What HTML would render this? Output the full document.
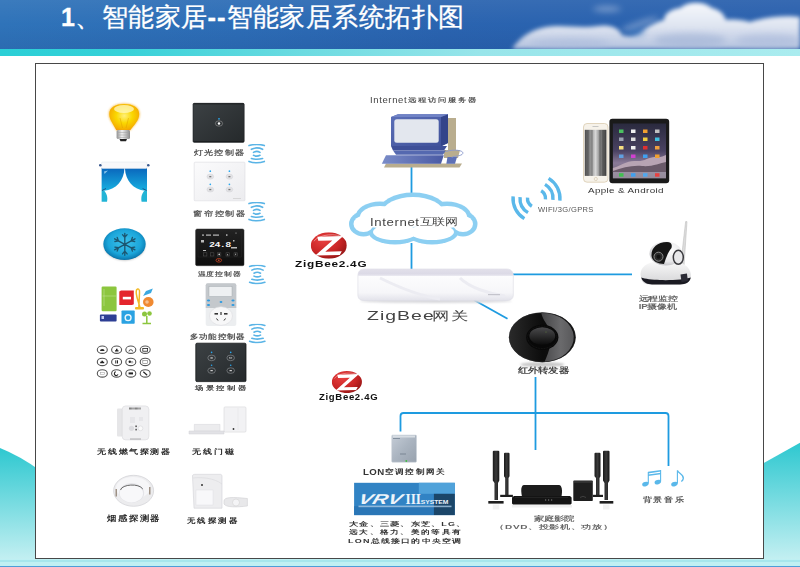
<!DOCTYPE html>
<html><head><meta charset="utf-8">
<style>
*{margin:0;padding:0;box-sizing:border-box}
html,body{width:800px;height:567px;overflow:hidden;background:#fff;font-family:"Liberation Sans",sans-serif}
#root{position:relative;width:800px;height:567px;overflow:hidden;background:#fff}
.a{position:absolute}
.t{position:absolute;white-space:nowrap;line-height:1;color:#444}
</style></head><body><div id="root">

<!-- header -->
<div class="a" style="left:0;top:0;width:800px;height:49px;background:linear-gradient(180deg,rgba(255,255,255,0.06) 0%,rgba(255,255,255,0) 50%,rgba(0,20,80,0.08) 100%),linear-gradient(90deg,#2f73b9 0%,#2d6db6 30%,#2a64b0 55%,#2a60ad 100%)"></div>
<svg class="a" style="left:0;top:0" width="800" height="49">
<defs>
<filter id="bl" x="-20%" y="-50%" width="140%" height="200%"><feGaussianBlur stdDeviation="2"/></filter>
<filter id="bl2" x="-20%" y="-50%" width="140%" height="200%"><feGaussianBlur stdDeviation="3"/></filter>
<linearGradient id="cg" x1="0" y1="0" x2="0" y2="1"><stop offset="0" stop-color="#f6f8fc"/><stop offset="0.5" stop-color="#dfe5f1"/><stop offset="1" stop-color="#b4c2de"/></linearGradient>
</defs>
<g filter="url(#bl)">
<path d="M512,49 C518,40 528,30 546,27 C562,24 580,29 598,26 C610,24 619,28 622,35 C628,37 636,36 642,31 C648,26 656,22 664,20 C664,13 672,9 680,8 C688,1 704,1 712,8 C720,10 724,14 726,20 C734,19 744,20 750,22 C764,17 786,15 800,17 V49 Z" fill="url(#cg)"/>
</g>
<g filter="url(#bl2)" opacity="0.55">
<ellipse cx="690" cy="40" rx="36" ry="7" fill="#9eb0d4"/>
<ellipse cx="570" cy="43" rx="40" ry="5" fill="#a8b8da"/>
<ellipse cx="768" cy="40" rx="32" ry="6" fill="#a8b8da"/>
<ellipse cx="636" cy="32" rx="9" ry="4" fill="#3a78c0"/>
</g>
<g filter="url(#bl2)" fill="#c8d4ea" opacity="0.45">
<ellipse cx="607" cy="9" rx="14" ry="3"/>
<ellipse cx="640" cy="24" rx="20" ry="3" transform="rotate(-18 640 24)"/>
</g>
</svg>
<div class="a" style="left:0;top:49px;width:800px;height:7px;background:linear-gradient(90deg,#2bcfd6 0%,#36d1d8 15%,#6cdbe1 38%,#98e5ea 60%,#aaecef 100%)"></div>
<div class="t" id="title" style="left:61px;top:5px;font-size:25.5px;color:#fff;letter-spacing:0.45px;-webkit-text-stroke:0.3px #fff"><b style="font-size:25px">1</b>、智能家居<b style="letter-spacing:1px">--</b>智能家居系统拓扑图</div>

<!-- bottom bg shapes -->
<svg class="a" style="left:0;top:0" width="800" height="567">
<defs>
<linearGradient id="cy" x1="0" y1="0" x2="0" y2="1"><stop offset="0" stop-color="#2ec8d0"/><stop offset="1" stop-color="#cdf2f4"/></linearGradient>
</defs>
<path d="M0,448 Q20,456 40,470.5 L40,567 L0,567Z" fill="url(#cy)"/>
<path d="M760,465.2 L800,442.8 L800,567 L760,567Z" fill="url(#cy)"/>
<rect x="0" y="559" width="800" height="8" fill="#bff0f3"/>
<rect x="0" y="560" width="800" height="2" fill="#a6e6ec"/>
<rect x="0" y="566" width="800" height="1" fill="#4c9ed8"/>
</svg>

<!-- frame -->
<div class="a" style="left:35px;top:62.5px;width:728.5px;height:496.5px;border:1.5px solid #484848;background:#fff"></div>

<!-- lines -->
<svg class="a" style="left:0;top:0" width="800" height="567" fill="none" stroke="#1e9be0" stroke-width="1.8">
<path d="M411.5,165V194"/>
<path d="M411.5,243V270"/>
<path d="M510,274.3H632"/>
<path d="M474,300L507.5,318.8"/>
<path d="M535.5,377V450"/>
<path d="M400.5,431.5V416a3,3 0 0 1 3,-3H665.5a3,3 0 0 1 3,3V466"/>
</svg>

<!-- left icons -->
<svg class="a" style="left:0;top:0" width="800" height="567">
<defs>
<radialGradient id="bulbg" cx="0.5" cy="0.45" r="0.6"><stop offset="0" stop-color="#fff07a"/><stop offset="0.45" stop-color="#fad800"/><stop offset="0.85" stop-color="#f5b000"/><stop offset="1" stop-color="#f09010"/></radialGradient>
<linearGradient id="bases" x1="0" y1="0" x2="1" y2="0"><stop offset="0" stop-color="#909090"/><stop offset="0.4" stop-color="#f0f0f0"/><stop offset="1" stop-color="#8a8a8a"/></linearGradient>
<linearGradient id="drape" x1="0" y1="0" x2="0" y2="1"><stop offset="0" stop-color="#0a66bc"/><stop offset="1" stop-color="#17b0e0"/></linearGradient>
<radialGradient id="snowg" cx="0.5" cy="0.45" r="0.55"><stop offset="0" stop-color="#3cc2ec"/><stop offset="0.7" stop-color="#1ca6da"/><stop offset="0.9" stop-color="#0f86bc"/><stop offset="1" stop-color="#0a70a4"/></radialGradient>
<filter id="glow" x="-30%" y="-30%" width="160%" height="160%"><feGaussianBlur stdDeviation="1.2"/></filter>
<filter id="sb" x="-30%" y="-30%" width="160%" height="160%"><feGaussianBlur stdDeviation="0.5"/></filter>
</defs>
<!-- bulb -->
<path d="M116.3,130.3 C113.5,124 108.8,120 108.8,114 C108.8,107 115.5,103.4 124.2,103.4 C133,103.4 139.7,107 139.7,114 C139.7,120 135,124 130.2,130.3 Z" fill="#f7b020" filter="url(#glow)" opacity="0.8"/>
<path d="M116.3,130.3 C113.5,124 109.3,120 109.3,114 C109.3,107.3 115.5,104 124.2,104 C133,104 139.2,107.3 139.2,114 C139.2,120 135,124 130.2,130.3 Z" fill="url(#bulbg)"/>
<ellipse cx="124" cy="109" rx="10" ry="4" fill="#fffbd0" opacity="0.7"/>
<path d="M120,118 L122.5,128 M128.5,118 L126,128" stroke="#e0a000" stroke-width="0.5" fill="none"/>
<rect x="116.6" y="130" width="13.4" height="9" rx="1.5" fill="url(#bases)"/>
<path d="M117,132.5H129.6M117,135H129.6M117.5,137.5H129" stroke="#a0a0a0" stroke-width="0.5"/>
<path d="M119.5,139H127L126,141.3H120.5Z" fill="#222"/>
<!-- curtain -->
<path d="M101.6,168 H124.5 C124,181 116,189.5 104,190.8 L101.6,190.8 Z" fill="url(#drape)"/>
<path d="M147,168 H124.9 C125.4,181 133.4,189.5 145,190.8 L147,190.8 Z" fill="url(#drape)"/>
<path d="M101.6,190.5 H104 C106.5,193 108,197 107,201.8 H101.6Z" fill="#22b4d6"/>
<path d="M147,190.5 H144.6 C142.1,193 140.6,197 141.6,201.8 H147Z" fill="#22b4d6"/>
<path d="M102,190.5 L106,188.5 M146.6,190.5 L142.6,188.5" stroke="#1a4a80" stroke-width="0.9"/>
<rect x="101.6" y="162" width="45.4" height="6.4" rx="1" fill="#f8f8fa" stroke="#dde4ea" stroke-width="0.5"/>
<ellipse cx="100.3" cy="165.2" rx="1.3" ry="1.2" fill="#3a5a90"/>
<ellipse cx="148.3" cy="165.2" rx="1.3" ry="1.2" fill="#3a5a90"/>
<path d="M104,171.5 L108,170.5 L104.5,174Z" fill="#a8d8f4" opacity="0.8"/>
<!-- snowflake button -->
<ellipse cx="124.6" cy="245.5" rx="20.5" ry="15" fill="#000" opacity="0.25" filter="url(#glow)"/>
<ellipse cx="124.5" cy="244.1" rx="21.2" ry="15.9" fill="url(#snowg)"/>
<g stroke="#1c5670" stroke-width="1.35" fill="none" stroke-linecap="round"><path d="M124.80,244.30L124.80,233.32 M124.80,237.44L122.49,234.68 M124.80,237.44L127.11,234.68 M124.80,244.30L134.98,238.81 M131.17,240.87L132.40,237.49 M131.17,240.87L134.71,241.50 M124.80,244.30L134.98,249.79 M131.17,247.73L134.71,247.10 M131.17,247.73L132.40,251.11 M124.80,244.30L124.80,255.28 M124.80,251.16L127.11,253.92 M124.80,251.16L122.49,253.92 M124.80,244.30L114.62,249.79 M118.43,247.73L117.20,251.11 M118.43,247.73L114.89,247.10 M124.80,244.30L114.62,238.81 M118.43,240.87L114.89,241.50 M118.43,240.87L117.20,237.49"/></g>
<!-- appliances -->
<rect x="101.6" y="286.6" width="15" height="24.7" rx="1.2" fill="#8cc63e"/>
<path d="M102.5,296H116M104,289V306" stroke="#c8e6a0" stroke-width="0.5"/>
<path d="M119.3,291.5L121,290.6H133.8V304.2L132,305.1H119.3Z" fill="#e4252c"/>
<rect x="122.8" y="296.8" width="8.2" height="2.6" fill="#fff"/>
<path d="M140,307.5 C138,300 135,294 136.5,290 C138,288 140,289 139.5,293 L138.8,307.5" stroke="#f2b925" stroke-width="1.5" fill="none"/>
<rect x="135" y="307" width="9" height="2.5" rx="1" fill="#f2b925"/>
<path d="M143,295.9 L146,291 L152.8,288.4 L151,293 Z" fill="#3ba8e0"/>
<ellipse cx="148.3" cy="302" rx="5.3" ry="4.9" fill="#f08a32"/>
<circle cx="147" cy="302" r="1.8" fill="#f8c090"/>
<rect x="99.9" y="314.4" width="16.7" height="7" rx="1" fill="#2d3e94"/>
<rect x="101.5" y="316" width="2.5" height="3" fill="#c0c8f0"/>
<rect x="121.5" y="310.4" width="13.2" height="13.3" rx="0.8" fill="#2aa2e2"/>
<circle cx="128.1" cy="317.7" r="3.6" fill="#fff" opacity="0.9"/>
<circle cx="128.1" cy="317.7" r="2.2" fill="#2aa2e2"/>
<path d="M146.8,323.7V316 M142.5,323.5H151" stroke="#8cc63e" stroke-width="1.5"/>
<circle cx="144.5" cy="314" r="2.5" fill="#8cc63e"/><circle cx="149.5" cy="313.5" r="2.3" fill="#8cc63e"/>
<!-- scene grid -->
<g fill="#fff" stroke="#555" stroke-width="1.1">
<ellipse cx="102.3" cy="349.7" rx="5" ry="3.7"/><ellipse cx="116.6" cy="349.7" rx="5" ry="3.7"/><ellipse cx="130.8" cy="349.7" rx="5" ry="3.7"/><ellipse cx="145.2" cy="349.7" rx="5" ry="3.7"/>
<ellipse cx="102.3" cy="361.9" rx="5" ry="3.7"/><ellipse cx="116.6" cy="361.9" rx="5" ry="3.7"/><ellipse cx="130.8" cy="361.9" rx="5" ry="3.7"/><ellipse cx="145.2" cy="361.9" rx="5" ry="3.7"/>
<ellipse cx="102.3" cy="373.4" rx="5" ry="3.7"/><ellipse cx="116.6" cy="373.4" rx="5" ry="3.7"/><ellipse cx="130.8" cy="373.4" rx="5" ry="3.7"/><ellipse cx="145.2" cy="373.4" rx="5" ry="3.7"/>
</g>
<g fill="#222">
<path d="M100,351 a2.3,2 0 0 1 4.6,0Z"/><path d="M115,351.5h3.5v-1.2h-1v-1.5h-1.5v1.5h-1Z"/><path d="M129,351.5 a1.8,1.8 0 0 1 3.6,0" stroke="#222" stroke-width="0.8" fill="none"/><rect x="142.8" y="348.4" width="4.8" height="2.8" fill="none" stroke="#222" stroke-width="0.8"/>
<path d="M100.2,363.2h4v-1.5h-1.2v-1h-1.6v1h-1.2Z"/><rect x="115.3" y="360.3" width="1" height="3.2"/><rect x="117" y="360.3" width="1" height="3.2"/><circle cx="129.8" cy="361.7" r="1.2"/><circle cx="132" cy="362.2" r="0.9" fill="none" stroke="#555" stroke-width="0.5"/><rect x="142.8" y="360.5" width="4.8" height="2.8" fill="none" stroke="#777" stroke-width="0.6"/>
<rect x="100.3" y="372.5" width="4" height="1.8" fill="none" stroke="#999" stroke-width="0.5"/><path d="M115.8,371.8a1.9,1.9 0 1 0 2.2,2.6" stroke="#222" stroke-width="1.1" fill="none"/><rect x="128.6" y="372.4" width="4.4" height="2"/><path d="M143.3,371.8L147.2,375.2" stroke="#222" stroke-width="1.2"/>
</g>
<!-- gas detector -->
<rect x="117" y="408.5" width="7" height="28" rx="1" fill="#e6e6e8" filter="url(#sb)"/>
<rect x="122.2" y="405.9" width="26.7" height="34" rx="3.5" fill="#f0f0f2" stroke="#d8d8dc" stroke-width="0.6"/>
<path d="M129,408.5H141" stroke="#555" stroke-width="1.8" stroke-dasharray="0.7,0.5"/>
<path d="M130,418H135M130,420H135M139,418H143M139,420H143M130,422H135" stroke="#d0d0d4" stroke-width="0.6"/>
<circle cx="131.5" cy="428.3" r="2.6" fill="#dcdce0"/><circle cx="140.5" cy="428.3" r="2.4" fill="#fafafa" stroke="#d0d0d4" stroke-width="0.5"/>
<rect x="135.4" y="425.5" width="1.4" height="1.6" fill="#444"/><rect x="135.4" y="428.8" width="1.4" height="1.6" fill="#444"/>
<path d="M130,439H141" stroke="#666" stroke-width="0.8" stroke-dasharray="0.6,0.4"/>
<!-- smoke detector -->
<ellipse cx="133.6" cy="490.8" rx="20" ry="15.5" fill="#ececee" stroke="#d0d0d4" stroke-width="0.7"/>
<ellipse cx="133" cy="488" rx="17" ry="11" fill="#f6f6f8"/>
<ellipse cx="131.6" cy="493" rx="12.6" ry="10" fill="#e4e4e8"/>
<ellipse cx="131.4" cy="493.4" rx="11.6" ry="9" fill="#f8f8fa"/>
<path d="M120.5,490 C122,484.2 139,483 142.8,489" stroke="#6a6a6a" stroke-width="1" fill="none"/>
<path d="M116.2,489V496.5 M149.8,487V494.5" stroke="#8a7a6a" stroke-width="1.2"/>
<!-- door sensor -->
<rect x="224" y="406.9" width="22" height="25.2" rx="1.2" fill="#f2f2f4" stroke="#d6d6da" stroke-width="0.6"/>
<path d="M238,408V430" stroke="#e0e0e4" stroke-width="0.5"/>
<circle cx="233.5" cy="429" r="0.9" fill="#333"/>
<path d="M194.3,424.4H220V431.3H194.3Z" fill="#ececee" stroke="#d4d4d8" stroke-width="0.5"/>
<path d="M189,431H224V434H189Z" fill="#e2e2e6" stroke="#d0d0d4" stroke-width="0.5"/>
<!-- PIR -->
<path d="M192.5,476 C192.5,474.5 194,474.3 196,474.3 H220 C221.5,474.3 222,475 222,476.5 V508.2 H194 Z" fill="#ededef" stroke="#d2d2d6" stroke-width="0.6"/>
<path d="M193,478 C202,477 214,478 222,484" stroke="#d8d8dc" stroke-width="0.6" fill="none"/>
<rect x="196" y="490" width="17" height="15" fill="#f8f8fa" stroke="#e0e0e4" stroke-width="0.5"/>
<circle cx="202" cy="485" r="1" fill="#333"/>
<path d="M224,501 C224,497 232,496.9 247.4,498.5 V506 C236,507.4 226,507.4 224,504 Z" fill="#e8e8ea" stroke="#d0d0d4" stroke-width="0.6"/>
<ellipse cx="236" cy="502.5" rx="3.5" ry="3.5" fill="#f4f4f6" stroke="#ccc" stroke-width="0.5"/>
</svg>

<!-- col2 panels -->
<svg class="a" style="left:0;top:0" width="800" height="567">
<defs>
<linearGradient id="darkp" x1="0" y1="0" x2="1" y2="1"><stop offset="0" stop-color="#3c4144"/><stop offset="1" stop-color="#25292b"/></linearGradient>
<linearGradient id="whitep" x1="0" y1="0" x2="1" y2="1"><stop offset="0" stop-color="#fbfbfc"/><stop offset="1" stop-color="#ececef"/></linearGradient>
<linearGradient id="tempp" x1="0" y1="0" x2="0" y2="1"><stop offset="0" stop-color="#222"/><stop offset="1" stop-color="#0e0e0e"/></linearGradient>
<symbol id="wv" viewBox="0 0 17.5 20"><g fill="none" stroke="#5ab4e6" stroke-width="1.6" stroke-linecap="round"><path d="M1,1.6Q8.7,-0.6 16.4,1.6"/><path d="M3.4,5.3Q8.7,2.5 14.6,5.3"/><path d="M5.5,8.4Q8.7,6.4 12,8.4"/><path d="M5.5,11.3Q8.7,12.9 12,11.3"/><path d="M3.4,14.5Q8.7,16.1 14.6,14.5"/><path d="M1,17.4Q8.7,20.1 16.4,17.4"/></g></symbol>
</defs>
<use href="#wv" x="248" y="144" width="17.5" height="20"/>
<use href="#wv" x="248" y="202" width="17.5" height="20"/>
<use href="#wv" x="248.5" y="264.8" width="17.5" height="20"/>
<use href="#wv" x="248.5" y="323.8" width="17.5" height="20"/>
<!-- light switch -->
<rect x="193" y="103.3" width="51.2" height="39" rx="1.2" fill="url(#darkp)" stroke="#1c1f21" stroke-width="0.6"/>
<circle cx="219" cy="118.8" r="0.9" fill="#2aa8f0"/>
<ellipse cx="219" cy="123.5" rx="3.6" ry="2.7" fill="none" stroke="#9a9a9a" stroke-width="0.6"/>
<circle cx="219" cy="123.5" r="1.2" fill="#fff"/>
<path d="M193.5,103.8H243.7M193.5,141.8H243.7" stroke="#141618" stroke-width="0.9"/>
<!-- curtain panel -->
<rect x="194.2" y="162.2" width="50.8" height="38.6" rx="0.8" fill="url(#whitep)" stroke="#dcdce0" stroke-width="0.6"/>
<g fill="#2aa8f0"><circle cx="210.3" cy="171.2" r="0.85"/><circle cx="229.4" cy="171.2" r="0.85"/><circle cx="210.3" cy="184.3" r="0.85"/><circle cx="229.4" cy="184.3" r="0.85"/></g>
<g fill="#e2e2e5" stroke="#d0d0d4" stroke-width="0.4"><ellipse cx="210.3" cy="176.6" rx="3.4" ry="2.6"/><ellipse cx="229.4" cy="176.6" rx="3.4" ry="2.6"/><ellipse cx="210.3" cy="189.5" rx="3.4" ry="2.6"/><ellipse cx="229.4" cy="189.5" rx="3.4" ry="2.6"/></g>
<g fill="#777"><rect x="209.3" y="176" width="2" height="1.3"/><rect x="228.4" y="176" width="2" height="1.3"/><rect x="209.3" y="188.9" width="2" height="1.3"/><rect x="228.4" y="188.9" width="2" height="1.3"/></g>
<rect x="233" y="198" width="8" height="0.7" fill="#ccc"/>
<!-- temp controller -->
<rect x="195.6" y="229" width="48.4" height="36.7" rx="1.5" fill="url(#tempp)" stroke="#333" stroke-width="0.5"/>
<rect x="198" y="231" width="43.5" height="26" fill="none" stroke="#2a2a2a" stroke-width="0.4"/>
<text x="209" y="246.6" font-family="Liberation Mono" font-size="10" font-weight="bold" fill="#f4f4f4" letter-spacing="-0.6" transform="translate(209 246.6) scale(1 0.8) translate(-209 -246.6)">24.8</text>
<g fill="#bbb"><rect x="202" y="234.5" width="2" height="1.2"/><rect x="206" y="234.5" width="5" height="1.2"/><rect x="213" y="234.5" width="6" height="1.2"/><rect x="226" y="234.3" width="1.5" height="1.5"/><circle cx="236" cy="233" r="0.6"/><rect x="201" y="240" width="3" height="2.5"/><rect x="233" y="240" width="1.5" height="1.5"/><rect x="231" y="247" width="6" height="1.5"/><rect x="203" y="250" width="3" height="1"/></g>
<g fill="none" stroke="#555" stroke-width="0.5"><rect x="203.5" y="252.8" width="3.4" height="3.2"/><rect x="210.5" y="252.8" width="3.4" height="3.2"/><rect x="217.5" y="252.8" width="3.4" height="3.2"/><rect x="226" y="252.8" width="3.4" height="3.2"/><rect x="234" y="252.8" width="3.4" height="3.2"/></g>
<g fill="#ddd"><circle cx="219.2" cy="254.4" r="0.8"/><path d="M227,255.3L227.7,253.8L228.4,255.3Z"/><path d="M235,253.8L235.7,255.3L236.4,253.8Z"/></g>
<ellipse cx="218.8" cy="260.3" rx="2.8" ry="1.8" fill="none" stroke="#c84020" stroke-width="0.8"/>
<circle cx="218.8" cy="260.3" r="0.8" fill="#d85030"/>
<!-- multifunction -->
<rect x="205.7" y="283.3" width="30.6" height="42.7" rx="2" fill="#eceef0"/>
<path d="M205.7,285.3 a2,2 0 0 1 2,-2 h26.6 a2,2 0 0 1 2,2 V308 H205.7Z" fill="#c4c8cc"/>
<rect x="209" y="286.5" width="23" height="10" fill="#eef0f2" stroke="#9aa0a6" stroke-width="0.4"/>
<g fill="#2d9ae0"><ellipse cx="208.5" cy="300.5" rx="1.6" ry="1.1"/><ellipse cx="221" cy="302" rx="1.4" ry="1"/><ellipse cx="233" cy="300.5" rx="1.6" ry="1.1"/><ellipse cx="208.5" cy="305" rx="1.6" ry="1.1"/><ellipse cx="233" cy="305" rx="1.6" ry="1.1"/></g>
<ellipse cx="221" cy="316" rx="11.5" ry="9.3" fill="#f7f7f8" stroke="#dcdcdf" stroke-width="0.6"/>
<g fill="#333"><rect x="214.5" y="313" width="3.5" height="1.6"/><rect x="224" y="313" width="3.5" height="1.6"/><rect x="220.4" y="312" width="1.2" height="3"/><path d="M216.5,318.5L218,320.5" stroke="#333" stroke-width="1"/><path d="M225.5,318.5L224,320.5" stroke="#333" stroke-width="1"/></g>
<!-- scene panel -->
<rect x="195.8" y="343.2" width="50.2" height="38.4" rx="1.2" fill="url(#darkp)" stroke="#16191b" stroke-width="0.8"/>
<g fill="#2aa8f0"><circle cx="211.6" cy="352.4" r="0.8"/><circle cx="230.7" cy="352.4" r="0.8"/><circle cx="211.6" cy="365.3" r="0.8"/><circle cx="230.7" cy="365.3" r="0.8"/></g>
<g fill="none" stroke="#9a9ea2" stroke-width="0.55"><ellipse cx="211.6" cy="357.9" rx="3.8" ry="2.8"/><ellipse cx="230.7" cy="357.9" rx="3.8" ry="2.8"/><ellipse cx="211.6" cy="370.6" rx="3.8" ry="2.8"/><ellipse cx="230.7" cy="370.6" rx="3.8" ry="2.8"/></g>
<g fill="#ddd"><rect x="210.4" y="357.4" width="2.4" height="1.1"/><rect x="229.5" y="357.2" width="2.4" height="1.4" fill="none" stroke="#ccc" stroke-width="0.4"/><rect x="210.4" y="370.1" width="2.4" height="1.1"/><rect x="229.5" y="370.1" width="2.4" height="1.1"/></g>
</svg>

<!-- center graphics -->
<svg class="a" style="left:0;top:0" width="800" height="567">
<defs>
<linearGradient id="kb" x1="0" y1="0" x2="1" y2="0"><stop offset="0" stop-color="#7a8cc8"/><stop offset="1" stop-color="#4a5aa4"/></linearGradient>
<linearGradient id="mon" x1="0" y1="0" x2="1" y2="1"><stop offset="0" stop-color="#5c70b8"/><stop offset="1" stop-color="#3e4f98"/></linearGradient>
<radialGradient id="zbg" cx="0.35" cy="0.3" r="0.8"><stop offset="0" stop-color="#e84040"/><stop offset="0.6" stop-color="#c82424"/><stop offset="1" stop-color="#8e1414"/></radialGradient>
<linearGradient id="gwf" x1="0" y1="0" x2="0" y2="1"><stop offset="0" stop-color="#ffffff"/><stop offset="0.75" stop-color="#f6f6f9"/><stop offset="1" stop-color="#e2e2ea"/></linearGradient>
<linearGradient id="gwt" x1="0" y1="0" x2="0" y2="1"><stop offset="0" stop-color="#e2e0ea"/><stop offset="0.7" stop-color="#dcdae6"/><stop offset="1" stop-color="#ecebf2"/></linearGradient>
<linearGradient id="irg" x1="0" y1="0" x2="1" y2="0"><stop offset="0" stop-color="#2a2a2a"/><stop offset="0.5" stop-color="#0c0c0c"/><stop offset="1" stop-color="#101010"/></linearGradient>
<linearGradient id="irr" x1="0" y1="0" x2="1" y2="0"><stop offset="0" stop-color="#444446"/><stop offset="0.6" stop-color="#6a6a6c"/><stop offset="1" stop-color="#58585a"/></linearGradient>
<linearGradient id="dome" x1="0" y1="0" x2="0" y2="1"><stop offset="0" stop-color="#4a4a4c"/><stop offset="1" stop-color="#0c0c0c"/></linearGradient>
<filter id="b1" x="-50%" y="-50%" width="200%" height="200%"><feGaussianBlur stdDeviation="1"/></filter>
<symbol id="zb" viewBox="0 0 36 26.4">
<ellipse cx="18" cy="13.2" rx="18" ry="13.2" fill="url(#zbg)"/>
<path d="M3,9 C8,2 26,0 34,6" stroke="#fff" stroke-width="0.7" fill="none" opacity="0.6"/>
<path d="M6.5,4.5 L32.5,3.6 L14.5,19.5 L31,19 L29,22.8 L4.5,23.2 L21.5,8.2 L7.5,8.4 Z" fill="#fff"/>
</symbol>
</defs>
<!-- computer -->
<path d="M448,118H456V152H448Z" fill="#b9ad8e"/>
<path d="M444,150H460L458,158H444Z" fill="#b9ad8e"/>
<path d="M386,163.5H462L459.5,167.5H384Z" fill="#b9ad8e"/>
<path d="M391,117 L398,114.3 H448 V143 L442,146 H391Z" fill="url(#mon)"/>
<path d="M441,117 L448,114.3 V143 L441,146Z" fill="#33448a"/>
<path d="M391,117 L398,114.3 H448 L441,117Z" fill="#7083c6"/>
<rect x="394.3" y="119.3" width="44.4" height="23.5" rx="2.5" fill="#e3e7ee"/>
<path d="M391,146 H447 L444,150.5 H393Z" fill="#3e4f98"/>
<path d="M393,150.5 H446 L443,154.8 H396Z" fill="#5569b0"/>
<path d="M386,155.3 H443.8 L441,163.7 H381.8Z" fill="url(#kb)"/>
<path d="M447.5,157 H457 L455,163.7 H446.3Z" fill="#5d70b6"/>
<path d="M446,151.5 C456,148.5 466,151 462,154.5 C459,156.5 452,156 452,157.5" stroke="#8a98cc" stroke-width="0.9" fill="none"/>
<!-- cloud -->
<g fill="#8ccff2">
<ellipse cx="413" cy="212" rx="34.5" ry="19.5"/><ellipse cx="380" cy="217" rx="24.5" ry="15.5"/><ellipse cx="447" cy="217" rx="24.5" ry="15.5"/>
<ellipse cx="363.5" cy="224" rx="14.5" ry="12.5"/><ellipse cx="463" cy="224" rx="14.5" ry="12.5"/><ellipse cx="395" cy="232" rx="26.5" ry="12.5"/><ellipse cx="432" cy="232" rx="26.5" ry="12.5"/>
</g>
<g fill="#fff">
<ellipse cx="413" cy="212" rx="30" ry="15"/><ellipse cx="380" cy="217" rx="20" ry="11"/><ellipse cx="447" cy="217" rx="20" ry="11"/>
<ellipse cx="363.5" cy="224" rx="10" ry="8"/><ellipse cx="463" cy="224" rx="10" ry="8"/><ellipse cx="395" cy="232" rx="22" ry="8"/><ellipse cx="432" cy="232" rx="22" ry="8"/>
</g>
<!-- zigbee logos -->
<use href="#zb" x="310.8" y="232.3" width="36" height="26.4"/>
<use href="#zb" x="331.8" y="371" width="30.2" height="22.1"/>
<!-- gateway -->
<ellipse cx="436" cy="301" rx="76" ry="2" fill="#d8d8dc" filter="url(#b1)"/>
<path d="M364,269 H507 C511,269 513.3,272 513.3,276 V295 C513.3,298.5 511,300.5 507,300.5 H364 C360,300.5 357.9,298.5 357.9,295 V276 C357.9,272 360,269 364,269Z" fill="url(#gwf)" stroke="#dcdce4" stroke-width="0.6"/>
<path d="M364,269 H507 C511,269 513.3,272 513.3,276 H357.9 C357.9,272 360,269 364,269Z" fill="url(#gwt)"/>
<path d="M380,278 C400,288 420,296 440,299 M460,278 C470,288 490,294 505,296" stroke="#ececf2" stroke-width="3" fill="none"/>
<rect x="488" y="294" width="12" height="1.2" fill="#c4c4cc"/>
<!-- IR blaster -->
<ellipse cx="542.3" cy="364.5" rx="22" ry="2.5" fill="#c8c8c8" filter="url(#b1)"/>
<ellipse cx="542.3" cy="337.3" rx="33.4" ry="24.9" fill="url(#irg)"/>
<path d="M541.2,312.5 A33.4,24.9 0 0 1 544.5,362.1 C547,356 549,351 550,346 L549,328 C546,323 542,318 541.2,312.5Z" fill="url(#irr)"/>
<ellipse cx="542.3" cy="337.3" rx="33" ry="24.5" fill="none" stroke="#2a2a2c" stroke-width="0.8" opacity="0.6"/>
<ellipse cx="542.3" cy="337.3" rx="16.1" ry="12.6" fill="#080808"/>
<ellipse cx="542.3" cy="337.3" rx="14.6" ry="11.2" fill="none" stroke="#1e1e1e" stroke-width="0.8" stroke-dasharray="0.8,0.8"/>
<ellipse cx="542.3" cy="336" rx="12.9" ry="8.75" fill="url(#dome)"/>
<circle cx="546" cy="332" r="0.5" fill="#6a8a40"/>
</svg>

<!-- bottom & right graphics -->
<svg class="a" style="left:0;top:0" width="800" height="567">
<defs>
<linearGradient id="lon" x1="0" y1="0" x2="1" y2="1"><stop offset="0" stop-color="#c4ccd6"/><stop offset="0.5" stop-color="#aab4c0"/><stop offset="1" stop-color="#98a2ae"/></linearGradient>
<linearGradient id="spk" x1="0" y1="0" x2="1" y2="0"><stop offset="0" stop-color="#1a1a1a"/><stop offset="0.5" stop-color="#3a3a3a"/><stop offset="1" stop-color="#151515"/></linearGradient>
<linearGradient id="ipad" x1="0" y1="0" x2="0" y2="1"><stop offset="0" stop-color="#2a2a3e"/><stop offset="0.5" stop-color="#4a4262"/><stop offset="0.72" stop-color="#8a7a98"/><stop offset="1" stop-color="#6a6070"/></linearGradient>
<linearGradient id="forest" x1="0" y1="0" x2="1" y2="0"><stop offset="0" stop-color="#4a4a4a"/><stop offset="0.3" stop-color="#9a9a9a"/><stop offset="0.5" stop-color="#d8d8d8"/><stop offset="0.7" stop-color="#8a8a8a"/><stop offset="1" stop-color="#3a3a3a"/></linearGradient>
<linearGradient id="camb" x1="0" y1="0" x2="0" y2="1"><stop offset="0" stop-color="#f8f8f8"/><stop offset="1" stop-color="#d4d4d6"/></linearGradient>
<radialGradient id="camh" cx="0.6" cy="0.35" r="0.7"><stop offset="0" stop-color="#ffffff"/><stop offset="0.7" stop-color="#e6e6e8"/><stop offset="1" stop-color="#bcbcc0"/></radialGradient>
</defs>
<!-- LON box -->
<rect x="391.7" y="435" width="24.8" height="27.2" rx="1" fill="url(#lon)" stroke="#c8d0d8" stroke-width="0.5"/>
<rect x="393" y="435.5" width="22" height="2" fill="#d8dee4"/>
<path d="M393,438.5H400" stroke="#6a7888" stroke-width="0.7"/>
<path d="M400,454H406" stroke="#7a8694" stroke-width="1"/>
<circle cx="406.3" cy="461" r="0.9" fill="#40c040"/>
<!-- VRV logo -->
<rect x="354.1" y="482.8" width="100.7" height="32.3" fill="#3183c4"/>
<rect x="418.8" y="482.8" width="36" height="11" fill="#50a2da"/>
<rect x="354.1" y="506.2" width="79.8" height="8.9" fill="#2a76b6"/>
<rect x="433.9" y="493.8" width="20.9" height="21.3" fill="#1b4669"/>
<g transform="translate(357.5 504.1) scale(1.47 1) skewX(-12)"><text x="0" y="0" font-family="Liberation Sans" font-weight="bold" font-style="italic" font-size="14.3" fill="#eef4fa">VRV</text></g>
<g transform="translate(405.5 504.1) scale(0.95 1.02)"><text x="0" y="0" font-family="Liberation Serif" font-weight="bold" font-size="14" fill="#eef4fa">III</text></g>
<g transform="translate(420.8 504.1) scale(1.2 1)"><text x="0" y="0" font-family="Liberation Sans" font-weight="bold" font-size="5.6" fill="#eef4fa">SYSTEM</text></g>
<rect x="358.5" y="505.6" width="93" height="1.6" fill="#a8c8e4" opacity="0.8"/>
<!-- home theatre -->
<g opacity="0.12"><rect x="492.8" y="504.5" width="6.5" height="5" fill="#888"/><rect x="603" y="504.5" width="6.5" height="5" fill="#888"/><rect x="512" y="505" width="60" height="2.5" fill="#888"/></g>
<path d="M492.8,451.5 a1,1 0 0 1 1,-0.7 h4.5 a1,1 0 0 1 1,0.7 V480.6 L498,483 V500 H494.5 V483 L492.8,480.6Z" fill="url(#spk)"/>
<rect x="488.3" y="501" width="15.3" height="2.6" fill="#1e1e1e"/>
<path d="M504,453.5 a1,1 0 0 1 1,-0.7 h3.5 a1,1 0 0 1 1,0.7 V476.3 L508.5,478 V495 H505.2 V478 L504,476.3Z" fill="url(#spk)"/>
<rect x="500.2" y="494.8" width="12.7" height="2.2" fill="#1e1e1e"/>
<path d="M603,451.5 a1,1 0 0 1 1,-0.7 h4.5 a1,1 0 0 1 1,0.7 V480.6 L508,483" fill="none"/>
<path d="M603,451.5 a1,1 0 0 1 1,-0.7 h4.5 a1,1 0 0 1 1,0.7 V480.6 L608,483 V500 H604.5 V483 L603,480.6Z" fill="url(#spk)"/>
<rect x="599.6" y="501" width="13.7" height="2.6" fill="#1e1e1e"/>
<path d="M594.5,453.5 a1,1 0 0 1 1,-0.7 h4 a1,1 0 0 1 1,0.7 V476.3 L599.5,478 V495 H596 V478 L594.5,476.3Z" fill="url(#spk)"/>
<rect x="592.8" y="494.8" width="10.2" height="2.2" fill="#1e1e1e"/>
<path d="M522,496.7 C520.6,490 521,485.5 524,485 H559 C562,485.5 562.6,490 561.5,496.7Z" fill="#1c1c1c"/>
<path d="M512,497.5 L514,495.9 H570 L571.6,497.5 V503.5 L570.5,504.4 H513 L512,503.5Z" fill="#141414"/>
<path d="M515,497.5H568" stroke="#333" stroke-width="0.5"/>
<g fill="#888"><rect x="545" y="499.5" width="1.2" height="1"/><rect x="548" y="499.5" width="1.2" height="1"/><rect x="551" y="499.5" width="1.2" height="1"/></g>
<rect x="573.3" y="480.6" width="19.5" height="20.4" rx="0.8" fill="#1e1e1e"/>
<rect x="574" y="481.2" width="18" height="1.5" fill="#3a3a3a"/>
<path d="M580,497.5 Q583,495 586,497.5" stroke="#555" stroke-width="0.6" fill="none"/>
<!-- music notes -->
<g fill="#5ab8ea" stroke="none">
<ellipse cx="645.4" cy="484.1" rx="3.3" ry="2.2" transform="rotate(-20 645.4 484.1)"/>
<ellipse cx="657.8" cy="482.1" rx="3.3" ry="2.2" transform="rotate(-20 657.8 482.1)"/>
<ellipse cx="674.4" cy="484.1" rx="3.3" ry="2.2" transform="rotate(-20 674.4 484.1)"/>
<path d="M648,471.8 L661,469.9 V471.6 L648,473.5Z"/><path d="M648,474.6 L661,472.7 V474.2 L648,476.1Z"/>
</g>
<g stroke="#5ab8ea" stroke-width="1.1" fill="none">
<path d="M648.3,472 V483.5"/><path d="M660.6,470 V481.5"/><path d="M677.4,470.5 V483.5"/>
<path d="M677.4,470.5 C678.5,473.5 684,474.5 683.3,478.5 C683,480 682,481 681.3,481.5" stroke-width="1.3"/>
</g>
<!-- phones -->
<rect x="583.5" y="123.5" width="24.5" height="58.7" rx="3.5" fill="#f6f2ea" stroke="#d6c6a6" stroke-width="0.7"/>
<rect x="584.8" y="129.8" width="21.6" height="46.1" fill="url(#forest)"/>
<path d="M588,130V176 M592,130V176 M600,130V176 M603,130V176" stroke="#3a3a3a" stroke-width="0.8" opacity="0.6"/>
<circle cx="595.8" cy="179" r="1.6" fill="none" stroke="#c8b898" stroke-width="0.5"/>
<rect x="592.5" y="126" width="6" height="0.8" fill="#bbb"/>
<rect x="609.4" y="118.7" width="59.8" height="64.6" rx="3" fill="#1a1a1a"/>
<rect x="612.9" y="123.5" width="53.1" height="54.8" fill="url(#ipad)"/>
<path d="M612.9,168 C620,166 628,160 636,161 C644,162 650,156 656,157 C660,158 663,156 666,155 V172 H612.9Z" fill="#b8a4b4"/><path d="M612.9,171 C622,168 632,165 642,166 C652,167 660,163 666,162 V172 H612.9Z" fill="#6a5a6a"/>
<g>
<rect x="619" y="129.5" width="4.5" height="3.5" fill="#4ac060"/><rect x="631" y="129.5" width="4.5" height="3.5" fill="#f0f0f0"/><rect x="643" y="129.5" width="4.5" height="3.5" fill="#f0a030"/><rect x="655" y="129.5" width="4.5" height="3.5" fill="#c0c0c0"/>
<rect x="619" y="137.5" width="4.5" height="3.5" fill="#9aa0b0"/><rect x="631" y="137.5" width="4.5" height="3.5" fill="#e0e0e0"/><rect x="643" y="137.5" width="4.5" height="3.5" fill="#f0d040"/><rect x="655" y="137.5" width="4.5" height="3.5" fill="#40c0e0"/>
<rect x="619" y="146" width="4.5" height="3.5" fill="#f8e080"/><rect x="631" y="146" width="4.5" height="3.5" fill="#f0f0f0"/><rect x="643" y="146" width="4.5" height="3.5" fill="#e03030"/><rect x="655" y="146" width="4.5" height="3.5" fill="#f0a040"/>
<rect x="619" y="154.5" width="4.5" height="3.5" fill="#60a0e0"/><rect x="631" y="154.5" width="4.5" height="3.5" fill="#d040d0"/><rect x="643" y="154.5" width="4.5" height="3.5" fill="#40a0f0"/><rect x="655" y="154.5" width="4.5" height="3.5" fill="#f0a030"/>
<rect x="612.9" y="172" width="53.1" height="6.3" fill="#b0a8b8" opacity="0.6"/>
<rect x="619" y="173.2" width="4.5" height="3.5" fill="#40c050"/><rect x="631" y="173.2" width="4.5" height="3.5" fill="#40a0f0"/><rect x="643" y="173.2" width="4.5" height="3.5" fill="#50a8f0"/><rect x="655" y="173.2" width="4.5" height="3.5" fill="#e84040"/>
</g>
<!-- wifi -->
<g transform="translate(536.5 198.5) rotate(-27)" fill="none" stroke="#5ab8ea" stroke-width="3.4" stroke-linecap="butt"><path d="M-7.63,4.77A9,9 0 0 1 -7.63,-4.77"/><path d="M7.63,-4.77A9,9 0 0 1 7.63,4.77"/><path d="M-13.99,8.74A16.5,16.5 0 0 1 -13.99,-8.74"/><path d="M13.99,-8.74A16.5,16.5 0 0 1 13.99,8.74"/><path d="M-19.93,12.45A23.5,23.5 0 0 1 -19.93,-12.45"/><path d="M19.93,-12.45A23.5,23.5 0 0 1 19.93,12.45"/></g>
<!-- camera -->
<path d="M685.6,221.6 L687,221.6 L684,266 L680.5,266Z" fill="#dcdcdc" stroke="#b8b8b8" stroke-width="0.5"/>
<path d="M641,277 C639,270 644,263.5 654,262 H676 C686,263.5 691.5,269 690.9,277 C690.5,282 686,284.4 680,284.4 H650 C644,284.4 641.5,282 641,277Z" fill="url(#camb)"/>
<path d="M641.2,277.5 C643,283 648,284.4 652,284.4 H680 C686,284.4 690,282 690.8,277.5 C686,279.5 670,280.5 660,280 C652,279.6 645,279 641.2,277.5Z" fill="#1a1a22"/>
<rect x="681" y="274" width="6.5" height="7.5" fill="#2a2a34" transform="rotate(-8 684 278)"/>
<ellipse cx="665.7" cy="253.4" rx="16.2" ry="12" fill="url(#camh)"/>
<path d="M651.5,256 C651,248 657,242 667,242 C671,242 672.5,244 671.5,248 C668,252 666,258 664,264 C658,264 652,261 651.5,256Z" fill="#161616"/>
<circle cx="658.5" cy="256.7" r="4.5" fill="#2a2a2a" stroke="#8a8a8a" stroke-width="1"/>
<circle cx="658.5" cy="256.7" r="2" fill="#111"/>
<ellipse cx="678.3" cy="257.3" rx="5" ry="7" fill="#e8e8ea" stroke="#3a3a3e" stroke-width="1.5"/>
</svg>

<!-- labels -->
<div class="t" id="l1" style="left:193.70px;top:149.70px;font-size:9.0px;letter-spacing:1.33px;color:#555;font-weight:bold;transform:scale(1.000,0.771);transform-origin:0 0">灯光控制器</div>
<div class="t" id="l2" style="left:193.40px;top:210.90px;font-size:9.0px;letter-spacing:1.70px;color:#555;font-weight:bold;transform:scale(1.000,0.766);transform-origin:0 0">窗帘控制器</div>
<div class="t" id="l3" style="left:197.70px;top:271.00px;font-size:8.0px;letter-spacing:0.72px;color:#555;font-weight:bold;transform:scale(1.000,0.769);transform-origin:0 0">温度控制器</div>
<div class="t" id="l4" style="left:189.50px;top:333.10px;font-size:9.0px;letter-spacing:0.38px;color:#555;font-weight:bold;transform:scale(1.000,0.826);transform-origin:0 0">多功能控制器</div>
<div class="t" id="l5" style="left:195.20px;top:385.20px;font-size:9.0px;letter-spacing:1.63px;color:#444;font-weight:bold;transform:scale(1.000,0.720);transform-origin:0 0">场景控制器</div>
<div class="t" id="l6" style="left:97.40px;top:449.00px;font-size:9.0px;letter-spacing:1.57px;color:#2a2a2a;font-weight:bold;transform:scale(1.000,0.780);transform-origin:0 0">无线燃气探测器</div>
<div class="t" id="l7" style="left:192.20px;top:449.00px;font-size:9.0px;letter-spacing:1.84px;color:#2a2a2a;font-weight:bold;transform:scale(1.000,0.780);transform-origin:0 0">无线门磁</div>
<div class="t" id="l8" style="left:107.00px;top:515.10px;font-size:9.0px;letter-spacing:1.85px;color:#2a2a2a;font-weight:bold;transform:scale(1.000,0.856);transform-origin:0 0">烟感探测器</div>
<div class="t" id="l9" style="left:187.00px;top:517.00px;font-size:9.0px;letter-spacing:1.47px;color:#2a2a2a;font-weight:bold;transform:scale(1.000,0.832);transform-origin:0 0">无线探测器</div>
<div class="t" id="c3" style="left:295.00px;top:258.50px;font-size:9.5px;letter-spacing:0.60px;color:#111;font-weight:bold;transform:scale(1.241,1.000);transform-origin:0 0">ZigBee2.4G</div>
<div class="t" id="c5" style="left:517.50px;top:367.10px;font-size:10px;letter-spacing:0.28px;color:#444;font-weight:bold;transform:scale(1.000,0.767);transform-origin:0 0">红外转发器</div>
<div class="t" id="c6" style="left:319.00px;top:393.00px;font-size:8.5px;letter-spacing:0.60px;color:#111;font-weight:bold;transform:scale(1.123,1.000);transform-origin:0 0">ZigBee2.4G</div>
<div class="t" id="c9" style="left:533.90px;top:515.90px;font-size:10px;letter-spacing:0.20px;color:#666;font-weight:bold;transform:scale(1.000,0.672);transform-origin:0 0">家庭影院</div>
<div class="t" id="c10" style="left:494.40px;top:524.10px;font-size:10px;letter-spacing:0.65px;color:#666;font-weight:bold;transform:scale(1.000,0.594);transform-origin:0 0">（DVD、投影机、功放）</div>
<div class="t" id="c11" style="left:642.50px;top:497.40px;font-size:9.0px;letter-spacing:1.67px;color:#555;font-weight:bold;transform:scale(1.000,0.771);transform-origin:0 0">背景音乐</div>
<div class="t" id="r1" style="left:587.50px;top:187.20px;font-size:9.0px;letter-spacing:0.30px;color:#333;transform:scale(1.098,0.798);transform-origin:0 0">Apple &amp; Android</div>
<div class="t" id="r2" style="left:538.40px;top:206.00px;font-size:7.0px;letter-spacing:0.30px;color:#555;transform:scale(1.083,0.926);transform-origin:0 0">WIFI/3G/GPRS</div>
<div class="t" id="r3" style="left:638.80px;top:295.10px;font-size:9.5px;letter-spacing:-0.30px;color:#666;font-weight:bold;line-height:11px;transform:scale(1.000,0.701);transform-origin:0 0">远程监控<br>IP摄像机</div>
<div class="t" id="c1a" style="left:370.00px;top:96.00px;font-size:9px;letter-spacing:0.60px;color:#444;transform:scale(1.054,0.983);transform-origin:0 0">Internet</div>
<div class="t" id="c1b" style="left:407.50px;top:97.00px;font-size:9px;letter-spacing:1.10px;color:#555;font-weight:bold;transform:scale(1.000,0.720);transform-origin:0 0">远程访问服务器</div>
<div class="t" id="c2a" style="left:369.60px;top:217.00px;font-size:11px;letter-spacing:0.50px;color:#444;transform:scale(1.201,1.018);transform-origin:0 0">Internet</div>
<div class="t" id="c2b" style="left:419.50px;top:217.00px;font-size:12.5px;letter-spacing:-0.20px;color:#444;transform:scale(1.000,0.769);transform-origin:0 0">互联网</div>
<div class="t" id="c4a" style="left:366.70px;top:309.00px;font-size:14.7px;letter-spacing:0.80px;color:#444;transform:scale(1.320,0.908);transform-origin:0 0">ZigBee</div>
<div class="t" id="c4b" style="left:432.00px;top:310.00px;font-size:17.5px;letter-spacing:0.80px;color:#444;transform:scale(1.000,0.691);transform-origin:0 0">网关</div>
<div class="t" id="c7a" style="left:363.00px;top:468.00px;font-size:8.5px;letter-spacing:0.40px;color:#333;font-weight:bold;transform:scale(1.136,1.000);transform-origin:0 0">LON</div>
<div class="t" id="c7b" style="left:384.50px;top:468.00px;font-size:9px;letter-spacing:1.40px;color:#333;font-weight:bold;transform:scale(1.000,0.817);transform-origin:0 0">空调控制网关</div>
<div class="t" id="c8a" style="left:349.10px;top:521.20px;font-size:9px;letter-spacing:1.24px;color:#333;font-weight:bold;transform:scale(1.000,0.649);transform-origin:0 0">大金、三菱、东芝、LG、</div>
<div class="t" id="c8b" style="left:349.10px;top:529.20px;font-size:9px;letter-spacing:1.28px;color:#333;font-weight:bold;transform:scale(1.000,0.700);transform-origin:0 0">远大、格力、美的等具有</div>
<div class="t" id="c8c" style="left:348.10px;top:538.10px;font-size:9px;letter-spacing:1.18px;color:#333;font-weight:bold;transform:scale(1.000,0.675);transform-origin:0 0">LON总线接口的中央空调</div>
<!-- /labels -->
</div></body></html>
